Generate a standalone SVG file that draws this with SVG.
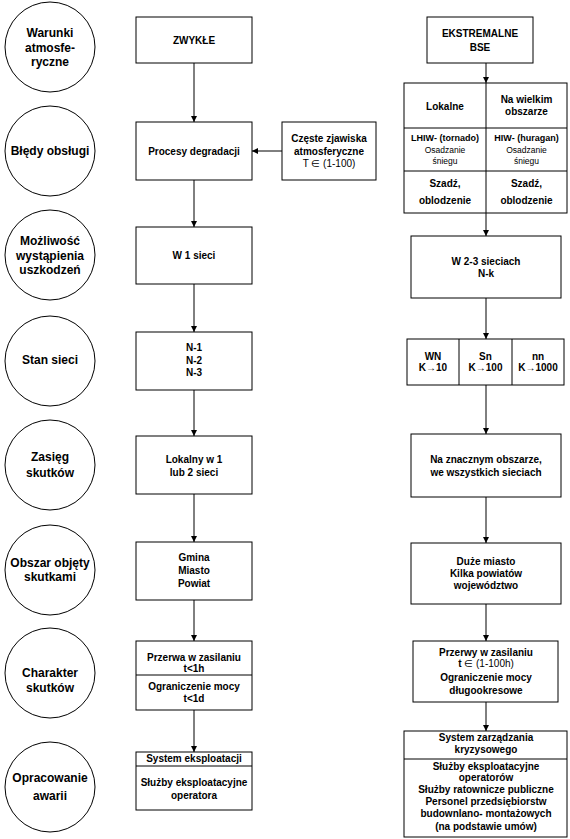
<svg xmlns="http://www.w3.org/2000/svg" width="570" height="839" viewBox="0 0 570 839">
<style>
text{font-family:"Liberation Sans",Arial,sans-serif;font-weight:bold;fill:#000;text-anchor:middle}
.c{font-size:12px}
.b{font-size:10px}
.n{font-weight:normal}
.s{font-size:8.5px}
.box{fill:#fff;stroke:#000;stroke-width:1}
.ln{fill:none;stroke:#000;stroke-width:1}
.conn line{stroke:#000;stroke-width:1;marker-end:url(#ah)}
</style>
<defs>
<marker id="ah" viewBox="0 0 10 10" refX="10" refY="5" markerWidth="6" markerHeight="6" markerUnits="userSpaceOnUse" orient="auto">
<path d="M0,0 L10,5 L0,10 z" fill="#000"/>
</marker>
</defs>
<rect width="570" height="839" fill="#fff"/>

<g id="c1"><circle class="box" cx="50" cy="47" r="45"/><text class="c" x="50" y="37">Warunki</text><text class="c" x="50" y="52">atmosfe-</text><text class="c" x="50" y="66">ryczne</text></g>
<g id="c2"><circle class="box" cx="50" cy="151" r="45"/><text class="c" x="50" y="155">Błędy obsługi</text></g>
<g id="c3"><circle class="box" cx="50" cy="255" r="45"/><text class="c" x="50" y="245">Możliwość</text><text class="c" x="50" y="259.5">wystąpienia</text><text class="c" x="50" y="274">uszkodzeń</text></g>
<g id="c4"><circle class="box" cx="50" cy="361" r="45"/><text class="c" x="50" y="364">Stan sieci</text></g>
<g id="c5"><circle class="box" cx="50" cy="465" r="45"/><text class="c" x="50" y="461">Zasięg</text><text class="c" x="50" y="477">skutków</text></g>
<g id="c6"><circle class="box" cx="50" cy="570" r="45"/><text class="c" x="50" y="567">Obszar objęty</text><text class="c" x="50" y="581">skutkami</text></g>
<g id="c7"><circle class="box" cx="50" cy="673" r="45"/><text class="c" x="50" y="677">Charakter</text><text class="c" x="50" y="692">skutków</text></g>
<g id="c8"><circle class="box" cx="50" cy="787" r="45"/><text class="c" x="50" y="782">Opracowanie</text><text class="c" x="50" y="800">awarii</text></g>

<g id="connectors" class="conn">
<line x1="194" y1="63" x2="194" y2="122"/>
<line x1="282" y1="151" x2="252" y2="151"/>
<line x1="194" y1="180" x2="194" y2="227"/>
<line x1="194" y1="284" x2="194" y2="332"/>
<line x1="194" y1="390" x2="194" y2="436"/>
<line x1="194" y1="494" x2="194" y2="542"/>
<line x1="194" y1="600" x2="194" y2="641"/>
<line x1="194" y1="710" x2="194" y2="752"/>
<line x1="486" y1="63" x2="486" y2="83"/>
<line x1="486" y1="213" x2="486" y2="236"/>
<line x1="486" y1="298" x2="486" y2="339"/>
<line x1="486" y1="385" x2="486" y2="434"/>
<line x1="486" y1="497" x2="486" y2="543"/>
<line x1="486" y1="604" x2="486" y2="641"/>
<line x1="486" y1="702" x2="486" y2="731"/>
</g>

<g id="zwykle"><rect class="box" x="136" y="17" width="116" height="46"/><text class="b" x="194" y="43.5">ZWYKŁE</text></g>
<g id="procesy"><rect class="box" x="136" y="122" width="116" height="58"/><text class="b" x="194" y="154.5">Procesy degradacji</text></g>
<g id="czeste"><rect class="box" x="282" y="122" width="94" height="58"/><text class="b" x="329" y="141.5">Częste zjawiska</text><text class="b" x="329" y="154.5">atmosferyczne</text><text class="b n" x="329" y="167">T ∈ (1-100)</text></g>
<g id="w1"><rect class="box" x="136" y="227" width="116" height="57"/><text class="b" x="194" y="258.5">W 1 sieci</text></g>
<g id="n123"><rect class="box" x="136" y="332" width="116" height="58"/><text class="b" x="194" y="350.5">N-1</text><text class="b" x="194" y="363.5">N-2</text><text class="b" x="194" y="376">N-3</text></g>
<g id="lokalny"><rect class="box" x="136" y="436" width="116" height="58"/><text class="b" x="194" y="462.5">Lokalny w 1</text><text class="b" x="194" y="475.5">lub 2 sieci</text></g>
<g id="gmina"><rect class="box" x="136" y="542" width="116" height="58"/><text class="b" x="194" y="560.5">Gmina</text><text class="b" x="194" y="573.5">Miasto</text><text class="b" x="194" y="586.5">Powiat</text></g>
<g id="przerwa"><rect class="box" x="136" y="641" width="116" height="69"/><line class="ln" x1="136" y1="675" x2="252" y2="675"/><text class="b" x="194" y="660.5">Przerwa w zasilaniu</text><text class="b" x="194" y="672">t&lt;1h</text><text class="b" x="194" y="689.5">Ograniczenie mocy</text><text class="b" x="194" y="701.5">t&lt;1d</text></g>
<g id="system"><rect class="box" x="136" y="752" width="116" height="58"/><line class="ln" x1="136" y1="766" x2="252" y2="766"/><text class="b" x="194" y="762">System eksploatacji</text><text class="b" x="194" y="785.5">Służby eksploatacyjne</text><text class="b" x="194" y="798.5">operatora</text></g>

<g id="ekstremalne"><rect class="box" x="427" y="17" width="106" height="46"/><text class="b" x="480" y="37">EKSTREMALNE</text><text class="b" x="480" y="50.5">BSE</text></g>
<g id="grid"><rect class="box" x="404" y="83" width="163" height="130"/><line class="ln" x1="486" y1="83" x2="486" y2="213"/><line class="ln" x1="404" y1="128" x2="567" y2="128"/><line class="ln" x1="404" y1="171" x2="567" y2="171"/>
<text class="b" x="445" y="109.5">Lokalne</text><text class="b" x="526.5" y="102.5">Na wielkim</text><text class="b" x="526.5" y="114.5">obszarze</text>
<text class="b" x="445" y="140.5" style="font-size:9px">LHIW- (tornado)</text><text class="s n" x="445" y="152.5">Osadzanie</text><text class="s n" x="445" y="163.5">śniegu</text>
<text class="b" x="526.5" y="140.5" style="font-size:9px">HIW- (huragan)</text><text class="s n" x="526.5" y="152.5">Osadzanie</text><text class="s n" x="526.5" y="163.5">śniegu</text>
<text class="b" x="445" y="186.5">Szadź,</text><text class="b" x="445" y="203.5">oblodzenie</text><text class="b" x="526.5" y="186.5">Szadź,</text><text class="b" x="526.5" y="203.5">oblodzenie</text></g>
<g id="w23"><rect class="box" x="411" y="236" width="150" height="62"/><text class="b" x="486" y="264.5">W 2-3 sieciach</text><text class="b" x="486" y="276.5">N-k</text></g>
<g id="wnsn"><rect class="box" x="407" y="339" width="157" height="46"/><line class="ln" x1="459" y1="339" x2="459" y2="385"/><line class="ln" x1="512" y1="339" x2="512" y2="385"/>
<text class="b" x="433" y="359.5">WN</text><text class="b" x="433" y="371">K<tspan class="n">→</tspan>10</text>
<text class="b" x="485.5" y="359.5">Sn</text><text class="b" x="485.5" y="371">K<tspan class="n">→</tspan>100</text>
<text class="b" x="538" y="359.5">nn</text><text class="b" x="538" y="371">K<tspan class="n">→</tspan>1000</text></g>
<g id="znacznym"><rect class="box" x="411" y="434" width="150" height="63"/><text class="b" x="486" y="462.5">Na znacznym obszarze,</text><text class="b" x="486" y="475.5">we wszystkich sieciach</text></g>
<g id="duze"><rect class="box" x="411" y="543" width="150" height="61"/><text class="b" x="486" y="564.5">Duże miasto</text><text class="b" x="486" y="576.5">Kilka powiatów</text><text class="b" x="486" y="589">województwo</text></g>
<g id="przerwy"><rect class="box" x="413" y="641" width="145" height="61"/><text class="b" x="486" y="655.5">Przerwy w zasilaniu</text><text class="b" x="486" y="667">t <tspan class="n">∈ (1-100h)</tspan></text><text class="b" x="486" y="680.5">Ograniczenie mocy</text><text class="b" x="486" y="693.5">długookresowe</text></g>
<g id="kryzys"><rect class="box" x="404" y="731" width="163" height="106"/><line class="ln" x1="404" y1="759" x2="567" y2="759"/><text class="b" x="486" y="741">System zarządzania</text><text class="b" x="486" y="752.5">kryzysowego</text>
<text class="b" x="486" y="769.5">Służby eksploatacyjne</text><text class="b" x="486" y="781">operatorów</text><text class="b" x="486" y="793">Służby ratownicze publiczne</text><text class="b" x="486" y="805">Personel przedsiębiorstw</text><text class="b" x="486" y="817">budownlano- montażowych</text><text class="b" x="486" y="829.5">(na podstawie umów)</text></g>
</svg>
